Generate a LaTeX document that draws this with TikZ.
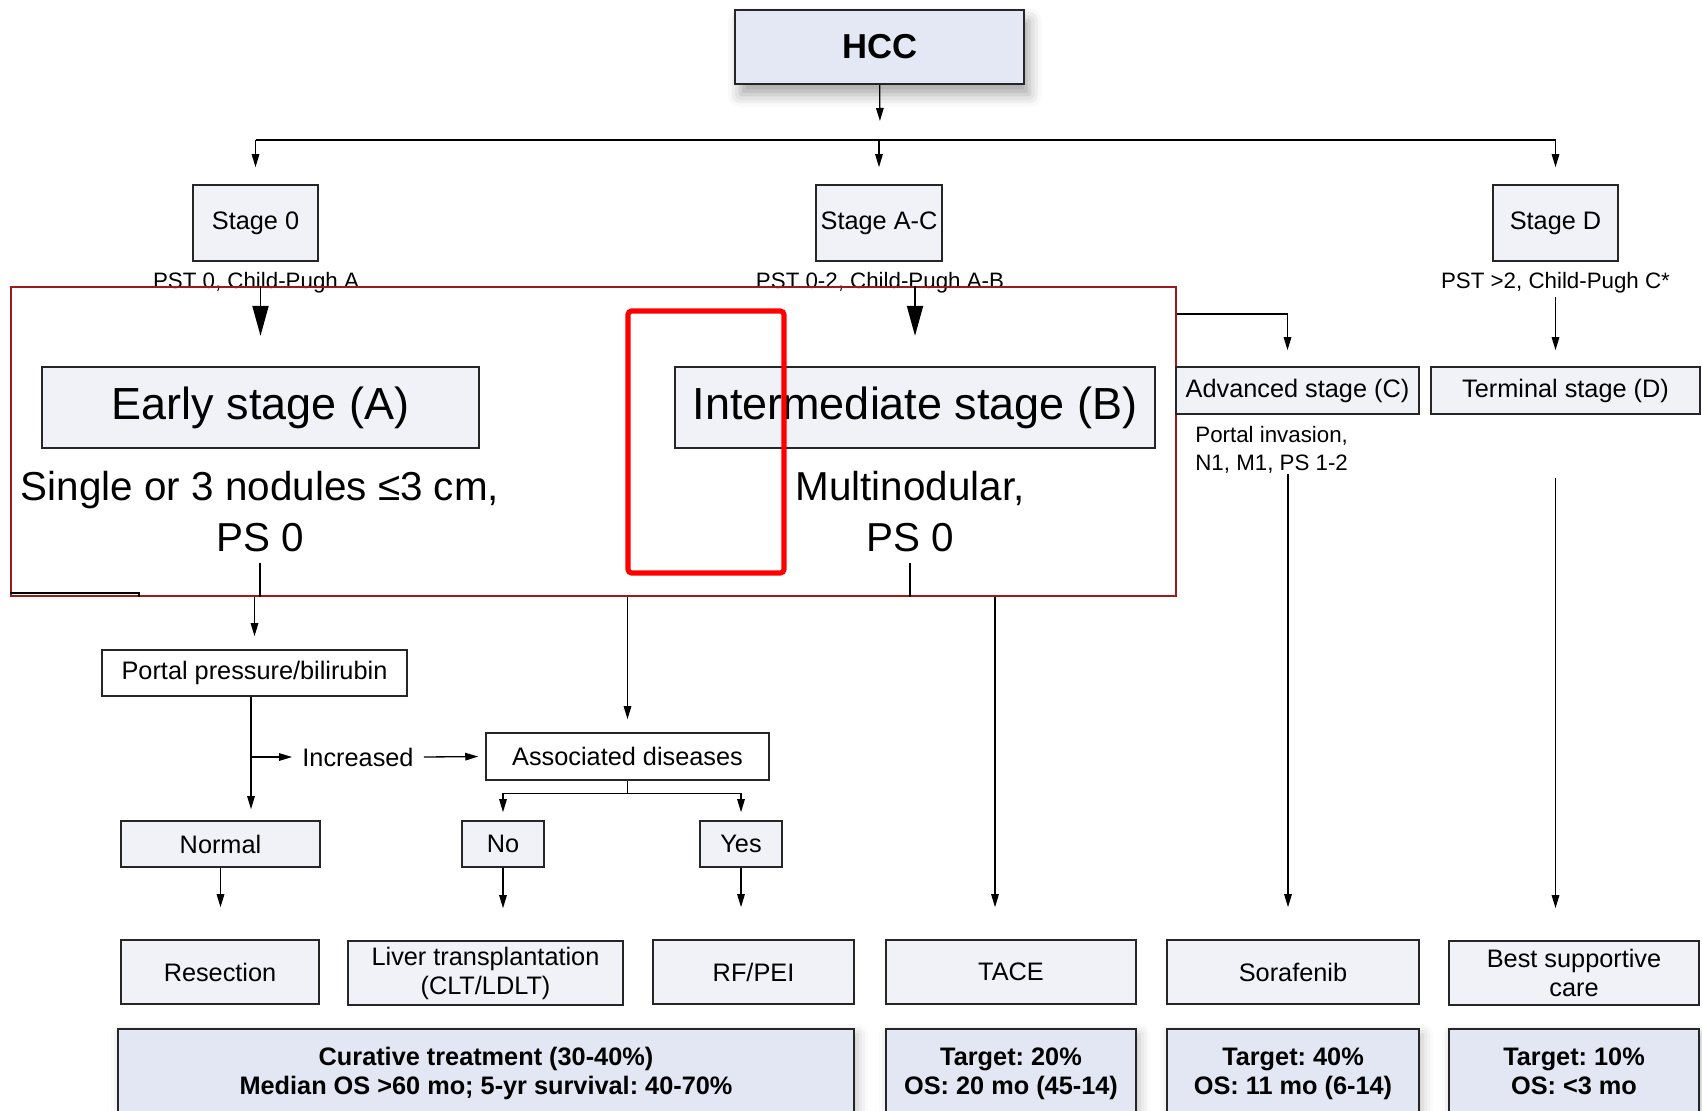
\documentclass[tikz,border=0pt]{standalone}
\usepackage{fontspec}
\setmainfont{Liberation Sans}
\usepackage{xcolor}
\usetikzlibrary{positioning, arrows.meta, shadows.blur}

\definecolor{hccfill}{HTML}{E4E8F5}
\definecolor{boxfill}{HTML}{F1F2F8}
\definecolor{outfill}{HTML}{E3E7F3}
\definecolor{framered}{HTML}{9E1A1A}

\newcommand{\fsnorm}{\fontsize{14.4pt}{16.5pt}\selectfont}
\newcommand{\fsnote}{\fontsize{12.7pt}{16pt}\selectfont}
\newcommand{\fsbig}{\fontsize{25.6pt}{29pt}\selectfont}
\newcommand{\fsdesc}{\fontsize{23pt}{29pt}\selectfont}
\newcommand{\fshcc}{\fontsize{19.7pt}{23pt}\selectfont\bfseries}

\begin{document}
\frenchspacing
\begin{tikzpicture}[
    x=0.02cm, y=-0.02cm,
    box/.style={draw=black!85, line width=0.9pt, rectangle, fill=boxfill, inner sep=0pt, align=center, font=\fsnorm},
    hccbox/.style={box, fill=hccfill, font=\fshcc, blur shadow={shadow xshift=3pt, shadow yshift=-6pt, shadow blur radius=7pt, shadow opacity=35}},
    outbox/.style={box, fill=outfill, font=\fsnorm\bfseries, blur shadow={shadow xshift=2pt, shadow yshift=-3pt, shadow blur radius=6pt, shadow opacity=25}},
    bigbox/.style={box, line width=1.3pt, font=\fsbig},
    bigtext/.style={inner sep=0.2cm, align=center, font=\fsdesc},
    note/.style={inner sep=0.06cm, align=center, font=\fsnote},
    frame/.style={draw=framered, line width=1.1pt, rectangle, inner sep=0pt},
    hilite/.style={draw=red, line width=2.9pt, rounded corners=2pt, rectangle, inner sep=0pt},
    line/.style={line width=0.75pt},
    arrow/.style={line, -{Triangle[length=0.26cm, width=0.15cm]}},
    bigarrow/.style={line width=1.1pt, -{Triangle[length=0.6cm, width=0.32cm]}}
]
\useasboundingbox (0,0) rectangle (1702,1111);
\clip (0,0) rectangle (1702,1111);

% top levels
\node[hccbox, minimum width=5.78cm, minimum height=1.48cm] (hcc) at (879.5,47) {HCC};
\coordinate (bar) at (880,140);
\node[box, minimum width=2.5cm, minimum height=1.52cm] (s0) at (255.5,223) {Stage 0};
\node[box, minimum width=2.52cm, minimum height=1.52cm] (sac) at (879,223) {Stage A-C};
\node[box, minimum width=2.5cm, minimum height=1.52cm] (sd) at (1555.5,223) {Stage D};
\node[note] (pst0) at (256,283) {PST 0, Child-Pugh A};
\node[note] (pstac) at (880,283) {PST 0-2, Child-Pugh A-B};
\node[note] (pstd) at (1555.5,283) {PST >2, Child-Pugh C*};

% stages
\node[frame, minimum width=23.3cm, minimum height=6.18cm] (frame) at (593.5,441.5) {};
\node[bigbox, minimum width=8.74cm, minimum height=1.62cm] (early) at (260.5,407.5) {Early stage (A)};
\node[bigbox, minimum width=9.6cm, minimum height=1.62cm] (inter) at (915,407.5) {Intermediate stage (B)};
\node[bigtext] (earlytxt) at (260,512) {Single or 3 nodules ≤3 cm,\\PS 0};
\node[bigtext] (intertxt) at (910,512) {Multinodular,\\PS 0};
\node[box, minimum width=4.86cm, minimum height=0.94cm] (adv) at (1297.5,390.5) {Advanced stage (C)};
\node[box, minimum width=5.38cm, minimum height=0.94cm] (term) at (1565.5,390.5) {Terminal stage (D)};
\node[note, align=left, anchor=west, inner sep=0pt] (advtxt) at (1195,450) {Portal invasion,\\N1, M1, PS 1-2};

% decisions
\node[box, fill=white, minimum width=6.1cm, minimum height=0.92cm] (portal) at (254.5,673) {Portal pressure/bilirubin};
\node[inner sep=0.2cm, font=\fsnorm] (incr) at (358,757) {Increased};
\node[box, fill=white, minimum width=5.66cm, minimum height=0.94cm] (assoc) at (627.5,756.5) {Associated diseases};
\node[box, minimum width=3.98cm, minimum height=0.92cm] (normal) at (220.5,844) {Normal};
\node[box, minimum width=1.64cm, minimum height=0.92cm] (no) at (503,844) {No};
\node[box, minimum width=1.64cm, minimum height=0.92cm] (yes) at (741,844) {Yes};

% treatments
\node[box, minimum width=3.96cm, minimum height=1.28cm] (resection) at (220,972) {Resection};
\node[box, minimum width=5.5cm, minimum height=1.28cm] (liver) at (485.5,973) {Liver transplantation\\(CLT/LDLT)};
\node[box, minimum width=4.02cm, minimum height=1.28cm] (rfpei) at (753.5,972) {RF/PEI};
\node[box, minimum width=5.0cm, minimum height=1.28cm] (tace) at (1011,972) {TACE};
\node[box, minimum width=5.04cm, minimum height=1.28cm] (sora) at (1293,972) {Sorafenib};
\node[box, minimum width=5.0cm, minimum height=1.28cm] (bsc) at (1574,973) {Best supportive\\care};

% outcomes
\node[outbox, minimum width=14.72cm, minimum height=1.78cm] (cur) at (486,1073.5) {Curative treatment (30-40\%)\\Median OS >60 mo; 5-yr survival: 40-70\%};
\node[outbox, minimum width=5.0cm, minimum height=1.78cm] (tgt20) at (1011,1073.5) {Target: 20\%\\OS: 20 mo (45-14)};
\node[outbox, minimum width=5.04cm, minimum height=1.78cm] (tgt40) at (1293,1073.5) {Target: 40\%\\OS: 11 mo (6-14)};
\node[outbox, minimum width=5.0cm, minimum height=1.78cm] (tgt10) at (1574,1073.5) {Target: 10\%\\OS: <3 mo\vphantom{()}};

% connectors
\draw[arrow, shorten >=0.38cm] (hcc) -- (bar);
\draw[line] (s0.north |- bar) -- (sd.north |- bar);
\foreach \n in {s0, sac, sd}
    \draw[arrow, shorten >=0.34cm] (\n.north |- bar) -- (\n.north);
\draw[bigarrow, shorten >=0.6cm] (early.north |- frame.north) -- (early.north);
\draw[bigarrow, shorten >=0.6cm] (inter.north |- frame.north) -- (inter.north);
\draw[line] (earlytxt.south) -- (earlytxt.south |- frame.south);
\draw[line] (intertxt.south) -- (intertxt.south |- frame.south);
\draw[line width=1.1pt] ([yshift=0.08cm]frame.south west) -| ([xshift=2.58cm]frame.south west);
\draw[arrow, shorten >=0.26cm] (portal.north |- frame.south) -- (portal.north);
\draw[arrow, shorten >=0.26cm] (assoc.north |- frame.south) -- (assoc.north);
\draw[arrow, shorten >=0.64cm] ([xshift=-0.32cm]tace.north |- frame.south) -- ([xshift=-0.32cm]tace.north);
\draw[arrow, shorten >=0.32cm] ([yshift=2.55cm]frame.east) -| ([xshift=-0.2cm]adv.north);
\draw[arrow, shorten >=0.32cm] (pstd.south) -- (pstd.south |- term.north);
\draw[arrow, shorten >=0.64cm] ([xshift=-0.1cm]sora.north |- advtxt.south) -- ([xshift=-0.1cm]sora.north);
\draw[arrow, shorten <=1.26cm, shorten >=0.64cm] (pstd |- term.south) -- (pstd |- bsc.north);
\draw[arrow, shorten >=0.22cm] ([xshift=-0.07cm]portal.south) -- ([xshift=-0.07cm]portal.south |- normal.north);
\draw[arrow] ([xshift=-0.07cm]portal.south |- incr) -- (incr.west);
\draw[arrow, shorten >=0.14cm] (incr.east) -- (assoc.west);
\draw[arrow, shorten >=0.16cm] (assoc.south) -- ++(0,13) -| (no.north);
\draw[arrow, shorten >=0.16cm] (assoc.south) -- ++(0,13) -| (yes.north);
\foreach \a/\b in {normal/resection, no/liver, yes/rfpei}
    \draw[arrow, shorten >=0.64cm] (\a.south) -- (\a.south |- \b.north);

% highlight
\node[hilite, minimum width=3.12cm, minimum height=5.24cm] (hl) at (706,442) {};
\end{tikzpicture}
\end{document}
